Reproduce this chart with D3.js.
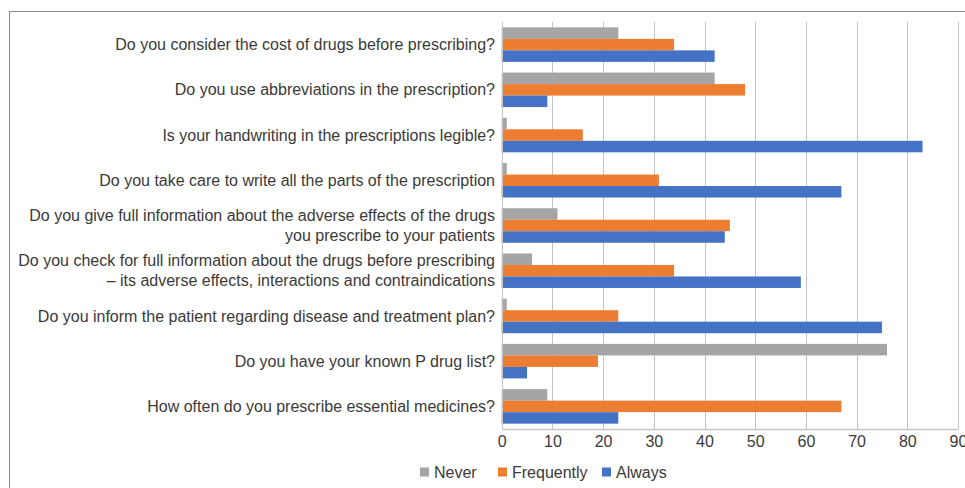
<!DOCTYPE html>
<html>
<head>
<meta charset="utf-8">
<script src="https://cdn.jsdelivr.net/npm/d3@7"></script>
<style>
  html, body { margin: 0; padding: 0; background: #fff; }
  svg { display: block; font-family: "Liberation Sans", Arial, sans-serif; }
</style>
</head>
<body>
<svg id="chart" width="965" height="488"></svg>
<script>
const categories = [
  "Do you consider the cost of drugs before prescribing?",
  "Do you use abbreviations in the prescription?",
  "Is your handwriting in the prescriptions legible?",
  "Do you take care to write all the parts of the prescription",
  "Do you give full information about the adverse effects of the drugs|you prescribe to your patients",
  "Do you check for full information about the drugs before prescribing|– its adverse effects, interactions and contraindications",
  "Do you inform the patient regarding disease and treatment plan?",
  "Do you have your known P drug list?",
  "How often do you prescribe essential medicines?"
];
const seriesNames = ["Never", "Frequently", "Always"];
const never      = [23, 42, 1, 1, 11, 6, 1, 76, 9];
const frequently = [34, 48, 16, 31, 45, 34, 23, 19, 67];
const always     = [42, 9, 83, 67, 44, 59, 75, 5, 23];
const seriesColors = ["#A5A5A5", "#ED7D31", "#4472C4"];
const xTicks = [0, 10, 20, 30, 40, 50, 60, 70, 80, 90];

const seriesValues = [never, frequently, always];
const svg = d3.select("#chart");

// frame
svg.append("rect")
  .attr("x", 9.5).attr("y", 11.5)
  .attr("width", 1000).attr("height", 600)
  .attr("fill", "none").attr("stroke", "#8a8a8a").attr("stroke-width", 1);

const plotTop = 22, plotBottom = 429;
const x = d3.scaleLinear().domain([0, 90]).range([501.7, 958]);
const y0 = d3.scaleBand().domain(d3.range(categories.length))
  .range([plotTop, plotBottom]).paddingInner(0.237).paddingOuter(0.1185);
const y1 = d3.scaleBand().domain(d3.range(seriesNames.length))
  .range([0, y0.bandwidth()]);

// gridlines
svg.append("g").selectAll("line").data(xTicks).join("line")
  .attr("x1", d => Math.round(x(d)) + 0.5).attr("x2", d => Math.round(x(d)) + 0.5)
  .attr("y1", plotTop).attr("y2", plotBottom)
  .attr("stroke", "#c4c4c4").attr("stroke-width", 1);

// bars
const groups = svg.append("g").selectAll("g").data(categories).join("g")
  .attr("transform", (d, i) => `translate(0,${y0(i)})`);
groups.selectAll("rect")
  .data((d, i) => seriesValues.map((vals, s) => ({ s, v: vals[i] })))
  .join("rect")
  .attr("x", x(0))
  .attr("y", d => y1(d.s))
  .attr("width", d => x(d.v) - x(0))
  .attr("height", y1.bandwidth())
  .attr("fill", d => seriesColors[d.s]);

// bottom axis
const xAxis = d3.axisBottom(x).tickValues(xTicks).tickSize(0).tickPadding(0);
const ax = svg.append("g").attr("transform", `translate(0,${plotBottom})`).call(xAxis);
ax.select(".domain").attr("stroke", "#c4c4c4").attr("stroke-width", 1.5);
ax.selectAll("text")
  .attr("y", 18).attr("dy", 0)
  .attr("font-size", 16).attr("fill", "#3a3a3a")
  .attr("font-family", "'Liberation Sans', Arial, sans-serif");

// zero line
svg.append("line")
  .attr("x1", Math.round(x(0)) + 0.5).attr("x2", Math.round(x(0)) + 0.5)
  .attr("y1", plotTop).attr("y2", plotBottom)
  .attr("stroke", "#c4c4c4").attr("stroke-width", 1);

// category labels
const lab = svg.append("g").selectAll("text").data(categories).join("text")
  .attr("text-anchor", "end")
  .attr("font-size", 16).attr("fill", "#3a3a3a")
  .attr("transform", (d, i) => `translate(495,${y0(i) + y0.bandwidth() / 2})`);
lab.each(function(d) {
  const lines = d.split("|");
  const lh = 20;
  const off = -(lines.length - 1) * lh / 2;
  d3.select(this).selectAll("tspan").data(lines).join("tspan")
    .attr("x", 0)
    .attr("y", (l, j) => off + j * lh)
    .attr("dy", "0.35em")
    .text(l => l);
});

// legend
const legX = [420, 498, 602];
const leg = svg.append("g").selectAll("g").data(seriesNames).join("g")
  .attr("transform", (d, i) => `translate(${legX[i]},472)`);
leg.append("rect").attr("x", 0).attr("y", -4.5).attr("width", 9).attr("height", 9)
  .attr("fill", (d, i) => seriesColors[i]);
leg.append("text").attr("x", 14).attr("dy", "0.35em")
  .attr("font-size", 16).attr("fill", "#3a3a3a").text(d => d);
</script>
</body>
</html>
